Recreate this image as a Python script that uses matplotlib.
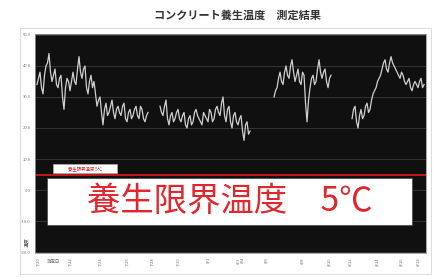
import numpy as np
import matplotlib
matplotlib.use("Agg")
import matplotlib.pyplot as plt
from matplotlib.patches import Rectangle

plt.rcParams['font.family'] = ['Noto Sans CJK JP', 'DejaVu Sans']

title = "コンクリート養生温度　測定結果"
limit_label = "養生限界温度　5℃"
limit_small = "養生限界温度 5℃"
limit_temp = 5
y_label = "温度"
x_label = "測定日"

nan = np.nan
seg_a = [34, 36, 38, 33, 31, 37, 40, 41, 44, 38, 35, 37, 39, 34, 33, 36, 37, 30, 26, 33,
         36, 35, 32, 35, 38, 35, 34, 39, 43, 38, 36, 39, 40, 33, 31, 35, 37, 33, 35, 31,
         27, 29, 30, 25, 21, 26, 28, 24, 25, 27, 29, 25, 23, 26, 27, 25, 24, 27, 28, 23,
         22, 25, 26, 23, 24, 26, 27, 24, 23, 27, 26, 23, 22, 24, 25]
gap_ab = [nan] * 7
seg_b = [27, 25, 24, 27, 29, 23, 21, 24, 25, 22, 23, 25, 26, 23, 22, 24, 25, 21, 20, 23,
         24, 21, 22, 25, 26, 24, 23, 22, 21, 25, 24, 23, 22, 26, 25, 22, 23, 26, 27, 25,
         24, 28, 30, 24, 22, 26, 27, 22, 20, 24, 25, 22, 21, 23, 24, 19, 16, 21, 22, 18, 19]
gap_bc = [nan] * 15
seg_c = [30, 32, 33, 36, 38, 35, 34, 38, 40, 37, 36, 40, 42, 38, 35, 37, 39, 35, 34, 38,
         37, 28, 22, 29, 33, 36, 37, 34, 35, 39, 42, 38, 36, 38, 39, 35, 33, 36, 37]
gap_cd = [nan] * 13
seg_d = [23, 26, 27, 22, 20, 24, 26, 23, 24, 27, 28, 25, 26, 29, 31, 32, 33, 35, 36, 37,
         39, 41, 42, 39, 38, 41, 43, 41, 40, 39, 38, 37, 36, 38, 37, 35, 34, 35, 36, 33,
         32, 34, 35, 34, 33, 35, 36, 33, 34]
temps = seg_a + gap_ab + seg_b + gap_bc + seg_c + gap_cd + seg_d

y_ticks = [-20, -10, 0, 10, 20, 30, 40, 50]
y_tick_labels = ["-20.0", "-10.0", "0.0", "10.0", "20.0", "30.0", "40.0", "50.0"]
x_tick_pos = [0.7, 22, 42, 60, 77, 94, 114, 134, 137, 153, 177, 195, 209, 227, 243, 254]
x_tick_labels = ["7/20", "7/22", "7/24", "7/26", "7/28", "7/30", "8/1", "8/3",
                 "8/4", "8/6", "8/8", "8/10", "8/12", "8/14", "8/16", "8/18"]

x = np.arange(len(temps))

fig = plt.figure(figsize=(4.35, 2.78), dpi=100)
fig.patch.set_facecolor('white')
fig.add_artist(Rectangle((20/435, 4/278), 411/435, 246/278, transform=fig.transFigure,
                         fill=False, edgecolor='#dddddd', linewidth=0.8))

ax = fig.add_axes([35/435, 25/278, 391/435, 219/278])
ax.set_facecolor('#101010')
ax.plot(x, temps, color='#d0d0d0', linewidth=0.9)
ax.axhline(limit_temp, color='#d01818', linewidth=1.3)
ax.set_xlim(-1.33, 259.3)
ax.set_ylim(-20.3, 50.3)
ax.set_yticks(y_ticks)
ax.set_yticklabels(y_tick_labels, fontsize=3, color='#777777')
ax.set_xticks(x_tick_pos)
ax.set_xticklabels(x_tick_labels, fontsize=3, color='#777777', rotation=90)
ax.tick_params(length=0, pad=3)
ax.grid(axis='y', color='#3a3a3a', linewidth=0.6)
for s in ax.spines.values():
    s.set_color('#999999')
    s.set_linewidth(0.6)

ax.add_patch(Rectangle((0.046, 0.365), 0.164, 0.042, transform=ax.transAxes,
                       facecolor='white', edgecolor='#bbbbbb', linewidth=0.4, zorder=5))
ax.text(0.128, 0.386, limit_small, transform=ax.transAxes, fontsize=3.2,
        color='#cc2222', ha='center', va='center', zorder=6)

ax.add_patch(Rectangle((0.031, 0.128), 0.933, 0.214, transform=ax.transAxes,
                       facecolor='white', edgecolor='#444444', linewidth=0.5, zorder=5))
ax.text(0.499, 0.235, limit_label, transform=ax.transAxes, fontsize=24,
        color='#e0262e', ha='center', va='center', zorder=6)

fig.text(237/435, 1 - 15/278, title, fontsize=8, fontweight='bold',
         color='#333333', ha='center', va='center')
fig.text(27/435, 1 - 242/278, y_label, fontsize=3.5, color='#555555',
         rotation=90, ha='center', va='center')
fig.text(53/435, 1 - 261/278, x_label, fontsize=3.2, color='#666666',
         ha='center', va='center')

fig.savefig("out.png", dpi=100, facecolor='white')
